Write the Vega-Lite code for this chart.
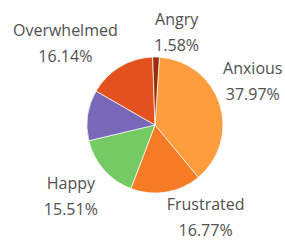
{
  "$schema": "https://vega.github.io/schema/vega-lite/v6.json",
  "width": 260,
  "height": 232,
  "autosize": {"type": "none"},
  "padding": {"left": 25, "top": 9, "right": 0, "bottom": 0},
  "background": "#ffffff",
  "view": {"stroke": null},
  "data": {
    "values": [
      {"emotion": "Anxious", "pct": 37.97, "order": 1},
      {"emotion": "Frustrated", "pct": 16.77, "order": 2},
      {"emotion": "Happy", "pct": 15.51, "order": 3},
      {"emotion": "Sad", "pct": 12.03, "order": 4},
      {"emotion": "Overwhelmed", "pct": 16.14, "order": 5},
      {"emotion": "Angry", "pct": 1.58, "order": 6}
    ]
  },
  "transform": [
    {"stack": "pct", "groupby": [], "sort": [{"field": "order", "order": "ascending"}], "as": ["t0", "t1"]},
    {"calculate": "(datum.t0 + datum.t1) / 2", "as": "tmid"},
    {"calculate": "[datum.emotion, format(datum.pct, '.2f') + '%']", "as": "label"}
  ],
  "encoding": {
    "theta": {"field": "t0", "type": "quantitative", "scale": {"domain": [0, 100], "range": [0.065, 6.3482]}}
  },
  "layer": [
    {
      "mark": {"type": "arc", "outerRadius": 68, "stroke": "#ffffff", "strokeWidth": 0.7},
      "encoding": {
        "theta": {"field": "t0", "type": "quantitative"},
        "theta2": {"field": "t1"},
        "color": {
          "field": "emotion",
          "type": "nominal",
          "legend": null,
          "scale": {
            "domain": ["Anxious", "Frustrated", "Happy", "Sad", "Overwhelmed", "Angry"],
            "range": ["#fe9d3e", "#f67b24", "#74cb64", "#7868b7", "#e3511f", "#9a2e0c"]
          }
        }
      }
    },
    {
      "transform": [{"filter": "datum.emotion == 'Anxious'"}],
      "mark": {"type": "text", "radius": 108, "font": "Open Sans", "fontSize": 16, "lineHeight": 26, "color": "#505050", "align": "center", "baseline": "middle", "dx": -5, "dy": -23},
      "encoding": {"theta": {"field": "tmid", "type": "quantitative"}, "text": {"field": "label"}}
    },
    {
      "transform": [{"filter": "datum.emotion == 'Frustrated'"}],
      "mark": {"type": "text", "radius": 108, "font": "Open Sans", "fontSize": 16, "lineHeight": 26, "color": "#505050", "align": "center", "baseline": "middle", "dx": 33, "dy": -27},
      "encoding": {"theta": {"field": "tmid", "type": "quantitative"}, "text": {"field": "label"}}
    },
    {
      "transform": [{"filter": "datum.emotion == 'Happy'"}],
      "mark": {"type": "text", "radius": 108, "font": "Open Sans", "fontSize": 16, "lineHeight": 26, "color": "#505050", "align": "center", "baseline": "middle", "dx": -3, "dy": -12},
      "encoding": {"theta": {"field": "tmid", "type": "quantitative"}, "text": {"field": "label"}}
    },
    {
      "transform": [{"filter": "datum.emotion == 'Overwhelmed'"}],
      "mark": {"type": "text", "radius": 108, "font": "Open Sans", "fontSize": 16, "lineHeight": 26, "color": "#505050", "align": "center", "baseline": "middle", "dx": -34, "dy": -1},
      "encoding": {"theta": {"field": "tmid", "type": "quantitative"}, "text": {"field": "label"}}
    },
    {
      "transform": [{"filter": "datum.emotion == 'Angry'"}],
      "mark": {"type": "text", "radius": 108, "font": "Open Sans", "fontSize": 16, "lineHeight": 26, "color": "#505050", "align": "center", "baseline": "middle", "dx": 20, "dy": 3},
      "encoding": {"theta": {"field": "tmid", "type": "quantitative"}, "text": {"field": "label"}}
    }
  ]
}
